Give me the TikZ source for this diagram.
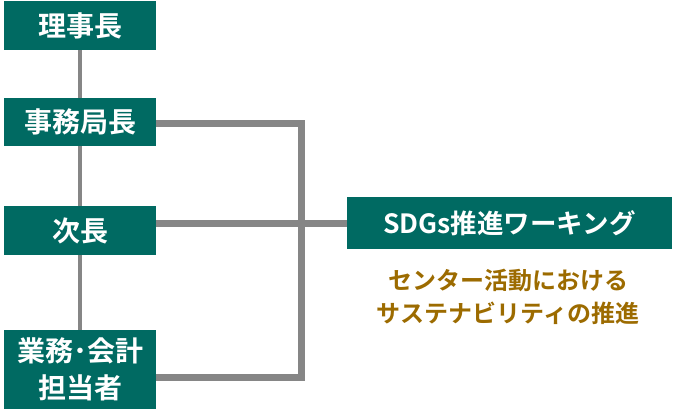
\documentclass[tikz,border=0pt]{standalone}
\usepackage{fontspec}
\newfontfamily\jpb{Noto Sans CJK JP Bold}
\definecolor{boxgreen}{HTML}{006A62}
\definecolor{linegray}{HTML}{868686}
\definecolor{textbrown}{HTML}{9C6B00}
\begin{document}
\begin{tikzpicture}[x=1pt,y=-1pt,
  orgbox/.style={fill=boxgreen, draw=none, text=white, minimum width=152pt, inner sep=0pt, align=center, font=\jpb\fontsize{28}{37}\selectfont},
  thinline/.style={draw=linegray, line width=4.5pt},
  thickline/.style={draw=linegray, line width=7pt}]
\useasboundingbox (0,0) rectangle (691,420);
\node[orgbox, minimum height=49pt] (A) at (80,25.5) {理事長};
\node[orgbox, minimum height=48pt] (B) at (80,122) {事務局長};
\node[orgbox, minimum height=49pt] (C) at (80,230.5) {次長};
\node[orgbox, minimum height=79pt] (D) at (80,369.5) {業務･会計\\担当者};
\node[orgbox, minimum width=325pt, minimum height=52pt, font=\jpb\fontsize{26.5}{30}\selectfont] (S) at (509.5,223) {SDGs推進ワーキング};
\node[text=textbrown, align=center, font=\jpb\fontsize{24}{33}\selectfont] (T) at (508,297) {センター活動における\\サステナビリティの推進};
\coordinate (j1) at (301,123);
\coordinate (j2) at (301,377);
\draw[thinline] (A.south) -- (B.north);
\draw[thinline] (B.south) -- (C.north);
\draw[thinline] (C.south) -- (D.north);
\draw[thickline] (B.east |- j1) -- (j1) -- (j2) -- (D.east |- j2);
\draw[thickline] (C.east |- S.west) -- (S.west);
\end{tikzpicture}
\end{document}
